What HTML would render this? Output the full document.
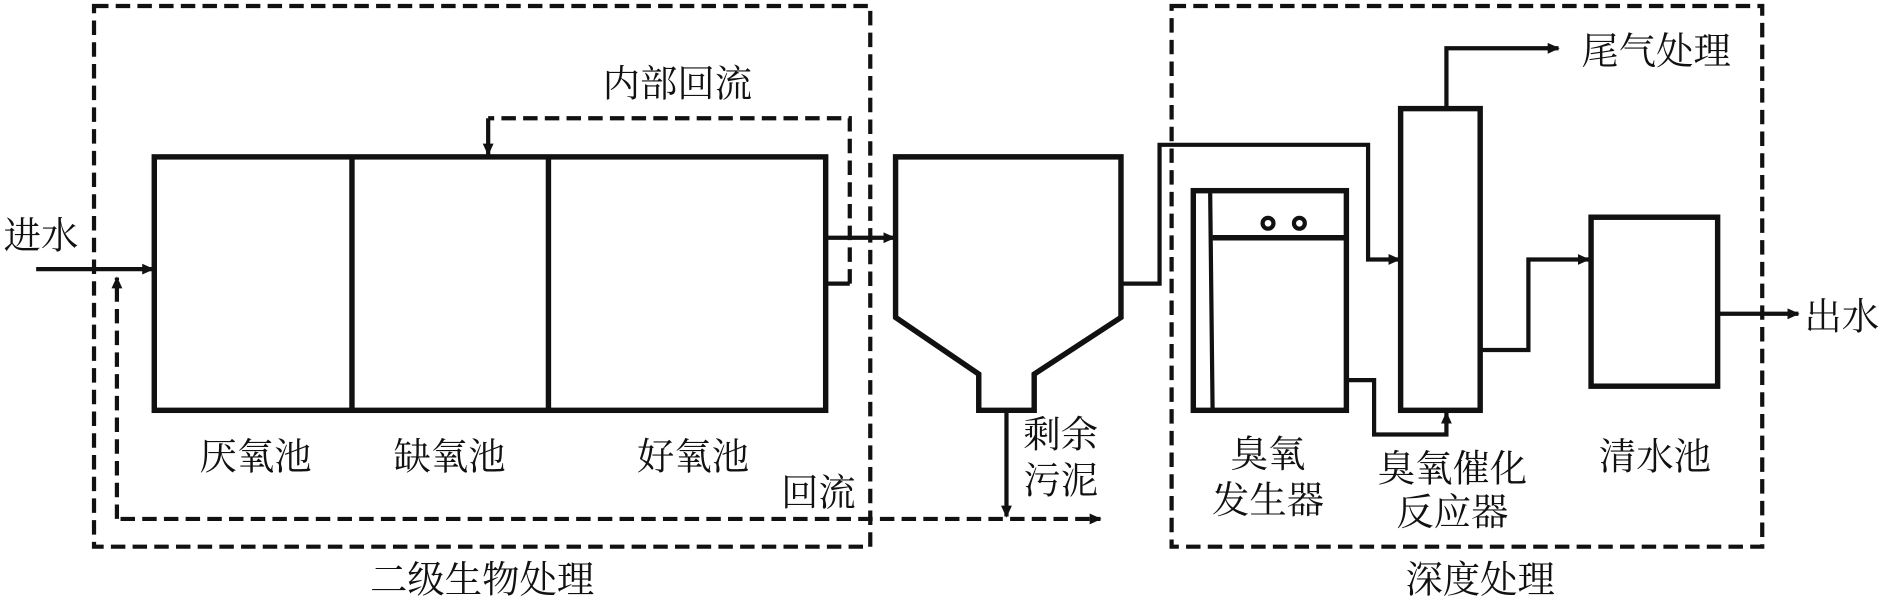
<!DOCTYPE html>
<html><head><meta charset="utf-8"><style>
html,body{margin:0;padding:0;background:#fff;}
svg{display:block;}
text{font-family:"Liberation Serif","Noto Serif CJK SC","Noto Sans CJK SC",serif;font-size:31px;fill:#111;}
</style></head><body>
<svg width="1890" height="601" viewBox="0 0 1568 498" preserveAspectRatio="none" xmlns="http://www.w3.org/2000/svg">
<defs>
<marker id="a" markerWidth="10" markerHeight="10" refX="9" refY="5" orient="auto" markerUnits="userSpaceOnUse"><path d="M0,0.5 L10,5 L0,9.5 Z" fill="#111"/></marker>
</defs>
<g fill="none" stroke="#111" stroke-width="3.5">
<rect x="78" y="5" width="644" height="448" stroke-dasharray="12,6"/>
<rect x="972" y="5" width="490" height="448" stroke-dasharray="12,6"/>
<rect x="128" y="130" width="557" height="210" stroke-width="4.5"/>
<line x1="292" y1="130" x2="292" y2="340" stroke-width="4.5"/>
<line x1="455" y1="130" x2="455" y2="340" stroke-width="4.5"/>
<line x1="30" y1="223" x2="127" y2="223" marker-end="url(#a)"/>
<path d="M97,430 V230" stroke-dasharray="12,6" marker-end="url(#a)"/>
<path d="M100,430 H913" stroke-dasharray="12,6" marker-end="url(#a)"/>
<path d="M685,235 H705"/>
<path d="M705,235 V98 H405" stroke-dasharray="12,6"/>
<path d="M405,98 V128" marker-end="url(#a)"/>
<path d="M685,197 H742" marker-end="url(#a)"/>
<path d="M743,130 H930 V263 L858,310 V340 H812 V310 L743,263 Z" stroke-width="4.5"/>
<path d="M835,340 V428" marker-end="url(#a)"/>
<path d="M930,235 H962 V120 H1135 V215 H1161" marker-end="url(#a)"/>
<rect x="990" y="158" width="127" height="182" stroke-width="4.5"/>
<line x1="1004" y1="160" x2="1006" y2="340"/>
<line x1="1006" y1="197" x2="1117" y2="197" stroke-width="4.5"/>
<circle cx="1052" cy="185" r="4.5"/>
<circle cx="1078" cy="185" r="4.5"/>
<path d="M1117,315 H1140 V360 H1200 V342" marker-end="url(#a)"/>
<rect x="1162" y="90" width="66" height="250" stroke-width="4.5"/>
<path d="M1200,90 V40 H1293" marker-end="url(#a)"/>
<path d="M1228,290 H1268 V215 H1318" marker-end="url(#a)"/>
<rect x="1320" y="180" width="105" height="140" stroke-width="4.5"/>
<path d="M1425,260 H1492" marker-end="url(#a)"/>
</g>
<text x="3" y="206">进水</text>
<text x="500" y="80">内部回流</text>
<text x="212" y="389" text-anchor="middle">厌氧池</text>
<text x="373" y="389" text-anchor="middle">缺氧池</text>
<text x="575" y="389" text-anchor="middle">好氧池</text>
<text x="648" y="419">回流</text>
<text x="400" y="491" text-anchor="middle">二级生物处理</text>
<text x="849" y="371">剩余</text>
<text x="849" y="409">污泥</text>
<text x="1052" y="387" text-anchor="middle">臭氧</text>
<text x="1052" y="425" text-anchor="middle">发生器</text>
<text x="1205" y="399" text-anchor="middle">臭氧催化</text>
<text x="1205" y="435" text-anchor="middle">反应器</text>
<text x="1373" y="389" text-anchor="middle">清水池</text>
<text x="1312" y="53">尾气处理</text>
<text x="1497" y="273">出水</text>
<text x="1228" y="491" text-anchor="middle">深度处理</text>
</svg>
</body></html>
